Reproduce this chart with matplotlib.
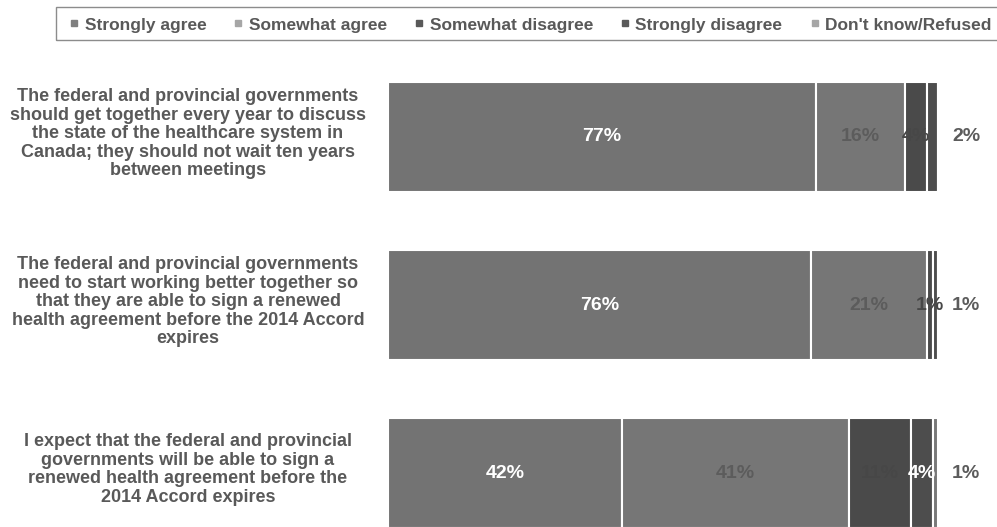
import numpy as np
import matplotlib.pyplot as plt
import matplotlib.transforms as mtransforms
from matplotlib.lines import Line2D
from matplotlib.patches import Rectangle

plt.rcParams['font.family'] = ['Liberation Sans', 'DejaVu Sans']
plt.rcParams['font.weight'] = 'bold'

# Dados
statements = [
    "The federal and provincial governments\nshould get together every year to discuss\n"
    "the state of the healthcare system in\nCanada; they should not wait ten years\nbetween meetings",
    "The federal and provincial governments\nneed to start working better together so\n"
    "that they are able to sign a renewed\nhealth agreement before the 2014 Accord\nexpires",
    "I expect that the federal and provincial\ngovernments will be able to sign a\n"
    "renewed health agreement before the\n2014 Accord expires",
]
categories = ["Strongly agree", "Somewhat agree", "Somewhat disagree",
              "Strongly disagree", "Don't know/Refused"]
strongly_agree = [77, 76, 42]
somewhat_agree = [16, 21, 41]
somewhat_disagree = [4, 1, 11]
strongly_disagree = [2, 1, 4]
dont_know = [0, 0, 1]

series = [strongly_agree, somewhat_agree, somewhat_disagree, strongly_disagree, dont_know]
bar_colors = ['#737373', '#767676', '#4a4a4a', '#4d4d4d', '#787878']
label_colors = ['white', '#5c5c5c', '#474747', 'white', '#5c5c5c']
marker_colors = ['#7f7f7f', '#a6a6a6', '#595959', '#595959', '#a6a6a6']

# Figura
fig = plt.figure(figsize=(9.97, 5.27), dpi=100)
ax = fig.add_axes([388 / 997, 0, 556 / 997, 467 / 527])

y = np.arange(len(statements))
totals = np.sum(np.array(series), axis=0)
left = np.zeros(len(statements))
for vals, col, lcol in zip(series, bar_colors, label_colors):
    ax.barh(y, vals, left=left, height=0.65, color=col, edgecolor='white', linewidth=1.5)
    for i, v in enumerate(vals):
        if v > 0:
            # o ultimo segmento leva o rotulo fora da barra
            if left[i] + v >= totals[i]:
                ax.text(104, y[i], f"{v}%", ha='center', va='center',
                        color='#5c5c5c', fontsize=14, fontweight='bold', clip_on=False)
            else:
                ax.text(left[i] + v / 2, y[i], f"{v}%", ha='center', va='center',
                        color=lcol, fontsize=14, fontweight='bold')
    left += np.array(vals)

ax.set_xlim(0, 100)
ax.set_ylim(2.321, -0.458)
ax.axis('off')

# Rotulos das afirmacoes
trans = mtransforms.blended_transform_factory(fig.transFigure, ax.transData)
for i, s in enumerate(statements):
    fig.text(188 / 997, y[i] - 0.02, s, transform=trans, ha='center', va='center',
             multialignment='center', fontsize=13, fontweight='bold',
             color='#595959', linespacing=1.12)

# Legenda
fig.patches.append(Rectangle((56 / 997, 1 - 40 / 527), 1, 33 / 527, transform=fig.transFigure,
                             facecolor='none', edgecolor='#8c8c8c', linewidth=1))
handles = [Line2D([], [], marker='s', linestyle='none', markersize=5,
                  markerfacecolor=c, markeredgecolor=c) for c in marker_colors]
fig.legend(handles, categories, loc='center left', bbox_to_anchor=(62 / 997, 1 - 25 / 527),
           ncol=5, frameon=False, handlelength=0.6, handletextpad=0.3, columnspacing=1.55,
           prop={'weight': 'bold', 'size': 12.5}, labelcolor='#595959', borderaxespad=0)

fig.savefig('out.png', dpi=100)
